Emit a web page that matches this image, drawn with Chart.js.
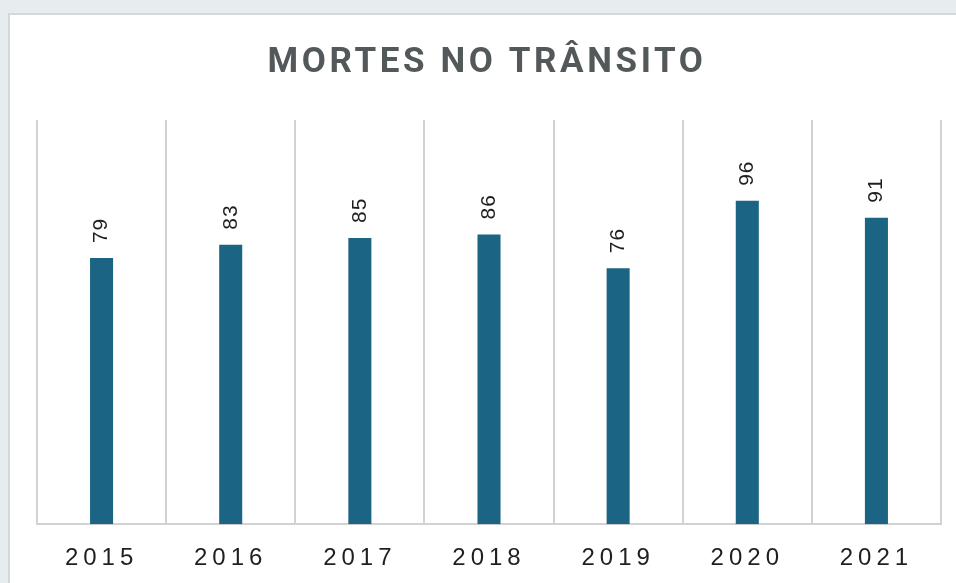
<!DOCTYPE html>
<html>
<head>
<meta charset="utf-8">
<script src="https://cdn.jsdelivr.net/npm/chart.js@4"></script>
<style>
html,body{margin:0;padding:0;width:956px;height:583px;overflow:hidden;background:#e7ecef;}
#card{position:absolute;left:8px;top:13px;width:960px;height:590px;background:#fff;border-left:2px solid #d3d8db;border-top:2px solid #d3d8db;}
#wrap{position:absolute;left:0;top:0;width:956px;height:603px;}
</style>
</head>
<body>
<div id="card"></div>
<div id="wrap"><canvas id="c" width="956" height="603"></canvas></div>
<script>
const chartTitle = "MORTES NO TRÂNSITO";
const years = ["2015","2016","2017","2018","2019","2020","2021"];
const deaths = [79, 83, 85, 86, 76, 96, 91];
const yMax = 120;

const spacingPlugin = {
  id: 'spacing',
  beforeDraw(chart){ chart.ctx.letterSpacing = '5px'; },
  afterDatasetsDraw(chart){
    const ctx = chart.ctx;
    const meta = chart.getDatasetMeta(0);
    ctx.save();
    ctx.letterSpacing = '1px';
    ctx.font = '21px "Liberation Sans", Arial, sans-serif';
    ctx.fillStyle = '#1f1f1f';
    ctx.textAlign = 'left';
    ctx.textBaseline = 'middle';
    meta.data.forEach((bar, i) => {
      ctx.save();
      ctx.translate(bar.x, bar.y - 15);
      ctx.rotate(-Math.PI/2);
      ctx.fillText(String(deaths[i]), 0, 0);
      ctx.restore();
    });
    ctx.restore();
  },
  afterDraw(chart){
    const ctx = chart.ctx;
    const a = chart.chartArea;
    ctx.save();
    ctx.letterSpacing = '3.6px';
    ctx.font = 'bold 35px Roboto, "Open Sans", sans-serif';
    ctx.fillStyle = '#53585a';
    ctx.textAlign = 'center';
    ctx.textBaseline = 'alphabetic';
    ctx.fillText(chartTitle, (a.left + a.right)/2 - 2, 72);
    ctx.restore();
  }
};

new Chart(document.getElementById('c'), {
  type: 'bar',
  data: {
    labels: years,
    datasets: [{
      data: deaths,
      backgroundColor: '#1b6483',
      borderWidth: 0,
      barPercentage: 0.223,
      categoryPercentage: 0.8
    }]
  },
  options: {
    responsive: false,
    animation: false,
    events: [],
    layout: { padding: { left: 37, right: 15, top: 120, bottom: 10 } },
    plugins: { legend: { display: false }, tooltip: { enabled: false }, title: { display: false } },
    scales: {
      x: {
        grid: { display: true, offset: true, color: '#d2d2d2', lineWidth: 2, drawTicks: false },
        border: { display: true, color: '#d2d2d2', width: 2 },
        ticks: { color: '#1f1f1f', font: { family: '"Liberation Sans", Arial, sans-serif', size: 24 }, padding: 20, maxRotation: 0 }
      },
      y: {
        display: false,
        min: 0,
        max: yMax
      }
    }
  },
  plugins: [spacingPlugin]
});
</script>
</body>
</html>
